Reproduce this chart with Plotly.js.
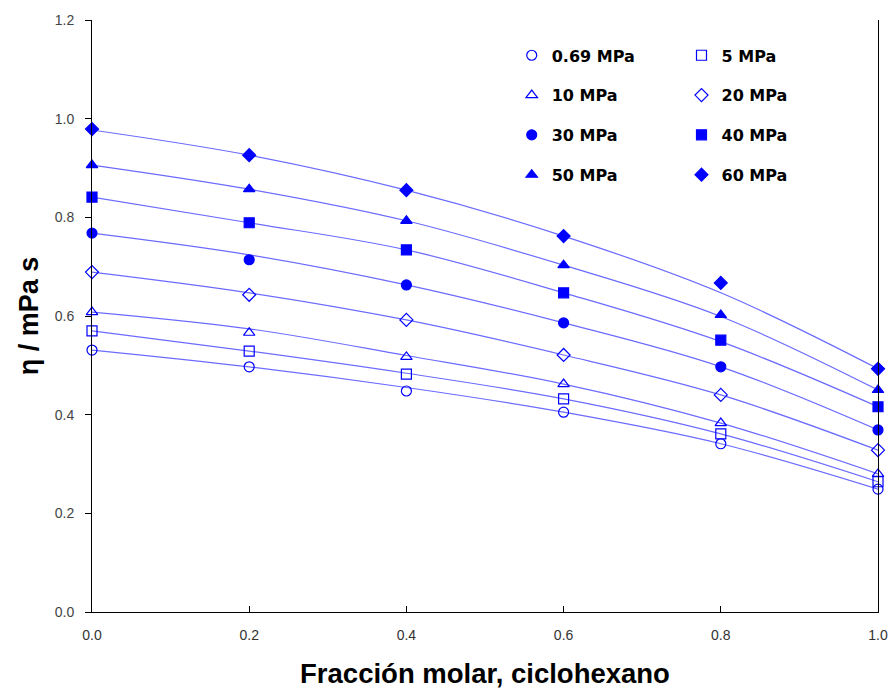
<!DOCTYPE html>
<html>
<head>
<meta charset="utf-8">
<script src="https://cdn.plot.ly/plotly-3.0.1.min.js"></script>
<style>html,body{margin:0;padding:0;background:#fff}#chart{width:888px;height:689px}</style>
</head>
<body>
<div id="chart"></div>
<script>
// x: mole fraction of cyclohexane
const xFrac = [0.0, 0.2, 0.4, 0.6, 0.8, 1.0];
const seriesNames = ["0.69 MPa", "5 MPa", "10 MPa", "20 MPa", "30 MPa", "40 MPa", "50 MPa", "60 MPa"];

// measured viscosities (markers), mPa s
const eta_069 = [0.531, 0.497, 0.448, 0.405, 0.341, 0.249];
const eta_5   = [0.570, 0.529, 0.482, 0.432, 0.361, 0.264];
const eta_10  = [0.608, 0.566, 0.517, 0.462, 0.383, 0.280];
const eta_20  = [0.689, 0.643, 0.592, 0.521, 0.440, 0.328];
const eta_30  = [0.768, 0.714, 0.663, 0.586, 0.497, 0.369];
const eta_40  = [0.841, 0.789, 0.734, 0.647, 0.551, 0.416];
const eta_50  = [0.906, 0.857, 0.793, 0.703, 0.602, 0.450];
const eta_60  = [0.979, 0.926, 0.855, 0.762, 0.667, 0.493];

// fitted curves (at the same x)
const fit_069 = [0.531, 0.497, 0.455, 0.405, 0.341, 0.249];
const fit_5   = [0.570, 0.529, 0.484, 0.432, 0.361, 0.264];
const fit_10  = [0.608, 0.574, 0.520, 0.462, 0.383, 0.280];
const fit_20  = [0.689, 0.647, 0.592, 0.521, 0.440, 0.328];
const fit_30  = [0.768, 0.724, 0.663, 0.586, 0.497, 0.369];
const fit_40  = [0.841, 0.789, 0.734, 0.647, 0.548, 0.416];
const fit_50  = [0.906, 0.857, 0.793, 0.703, 0.599, 0.450];
const fit_60  = [0.977, 0.926, 0.855, 0.762, 0.647, 0.493];

const yTickVals = [0.0, 0.2, 0.4, 0.6, 0.8, 1.0, 1.2];
const yTickText = ["0.0", "0.2", "0.4", "0.6", "0.8", "1.0", "1.2"];
const xTickVals = [0.0, 0.2, 0.4, 0.6, 0.8, 1.0];
const xTickText = ["0.0", "0.2", "0.4", "0.6", "0.8", "1.0"];

const markerVals = [eta_069, eta_5, eta_10, eta_20, eta_30, eta_40, eta_50, eta_60];
const fitVals = [fit_069, fit_5, fit_10, fit_20, fit_30, fit_40, fit_50, fit_60];
const symbols = ["circle-open", "square-open", "triangle-up-open", "diamond-open", "circle", "square", "triangle-up", "diamond"];
const legendOf = ["legend", "legend2", "legend", "legend2", "legend", "legend2", "legend", "legend2"];

const traces = [];
fitVals.forEach((v, i) => {
  traces.push({
    x: xFrac, y: v, mode: "lines", type: "scatter",
    line: {color: "#6b6bff", width: 1.2, shape: "spline", smoothing: 1},
    showlegend: false, hoverinfo: "skip"
  });
});
markerVals.forEach((v, i) => {
  traces.push({
    x: xFrac, y: v, mode: "markers", type: "scatter", name: seriesNames[i],
    legend: legendOf[i], legendgroup: "g" + i,
    marker: {symbol: symbols[i], color: "#0000ff", size: 10, line: {color: "#0000ff", width: 1.2}},
    cliponaxis: false
  });
});

const legendStyle = {
  bgcolor: "rgba(0,0,0,0)", borderwidth: 0,
  font: {family: "DejaVu Sans, Arial, sans-serif", size: 16, color: "#000", weight: "bold"},
  tracegroupgap: 16, xanchor: "left", yanchor: "top", itemwidth: 30
};

const layout = {
  width: 888, height: 689,
  margin: {l: 92, r: 10, t: 20, b: 77},
  paper_bgcolor: "#fff", plot_bgcolor: "#fff",
  showlegend: true,
  legend: Object.assign({x: 0.534, y: 0.969}, legendStyle),
  legend2: Object.assign({x: 0.750, y: 0.969}, legendStyle),
  xaxis: {
    range: [0, 1.0], tickvals: xTickVals, ticktext: xTickText,
    showgrid: false, zeroline: false, showline: true, linecolor: "#000", linewidth: 1,
    ticks: "inside", ticklen: 6, tickcolor: "#000", mirror: false,
    ticklabelstandoff: 10,
    tickfont: {family: "Liberation Sans Narrow, Liberation Sans, Arial, sans-serif", size: 14, color: "#333"},
    title: {text: "Fracción molar, ciclohexano", standoff: 22,
      font: {family: "Liberation Sans, Arial, sans-serif", size: 27.5, color: "#000", weight: "bold"}}
  },
  yaxis: {
    range: [0, 1.2], tickvals: yTickVals, ticktext: yTickText,
    showgrid: false, zeroline: false, showline: true, linecolor: "#000", linewidth: 1,
    ticks: "outside", ticklen: 6, tickcolor: "#000", mirror: true,
    ticklabelstandoff: 8,
    tickfont: {family: "Liberation Sans, Arial, sans-serif", size: 14, color: "#444"},
    title: {text: "η / mPa s", standoff: 8,
      font: {family: "Liberation Sans, Arial, sans-serif", size: 27, color: "#000", weight: "bold"}}
  }
};

Plotly.newPlot("chart", traces, layout, {displayModeBar: false, responsive: false});
</script>
</body>
</html>
